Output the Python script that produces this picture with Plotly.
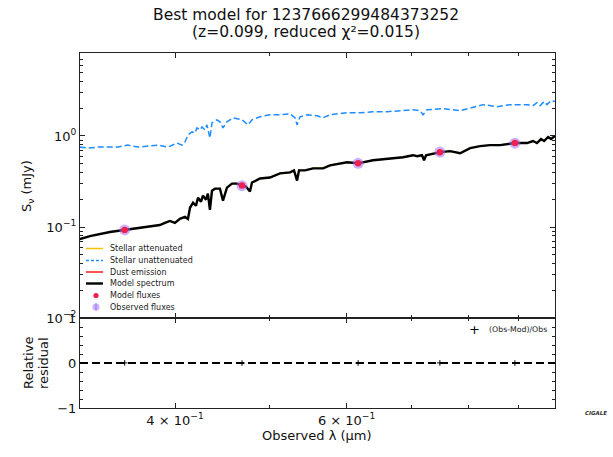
import plotly.graph_objects as go

# ---------------- data ----------------
model_wavelength = [0.3194, 0.3271, 0.3429, 0.3544, 0.3682, 0.3769, 0.3859, 0.3905, 0.3952, 0.3999,
                    0.4046, 0.4095, 0.4124, 0.4144, 0.4174, 0.4203, 0.4223, 0.4253, 0.4273, 0.4303,
                    0.4323, 0.4344, 0.4365, 0.4396, 0.4448, 0.4480, 0.4522, 0.4576, 0.4631, 0.4686,
                    0.4730, 0.4775, 0.4798, 0.4890, 0.5006, 0.5126, 0.5249, 0.5299, 0.5337, 0.5362,
                    0.5439, 0.5543, 0.5675, 0.5770, 0.5908, 0.6007, 0.6165, 0.6238, 0.6387, 0.6540,
                    0.6696, 0.6857, 0.7021, 0.7088, 0.7171, 0.7206, 0.7240, 0.7486, 0.7665, 0.7847,
                    0.8035, 0.8226, 0.8422, 0.8624, 0.8935, 0.9192, 0.9322, 0.9410, 0.9501, 0.9570,
                    0.9661, 0.9728, 0.9820]
model_flux = [0.0736, 0.0794, 0.0880, 0.0926, 0.0975, 0.1000, 0.1052, 0.1108, 0.1166, 0.1108,
              0.1227, 0.1290, 0.1227, 0.1626, 0.1848, 0.1711, 0.2100, 0.1896, 0.2210, 0.1995,
              0.2326, 0.1545, 0.2510, 0.2640, 0.2640, 0.1945, 0.2710, 0.3000, 0.3000, 0.2850,
              0.2780, 0.2450, 0.3080, 0.3410, 0.3500, 0.3880, 0.3980, 0.4190, 0.3240, 0.4190,
              0.4190, 0.4410, 0.4410, 0.4760, 0.5010, 0.5140, 0.5010, 0.5140, 0.5410, 0.5550,
              0.5690, 0.5840, 0.6150, 0.5990, 0.6150, 0.5410, 0.6150, 0.6640, 0.6810, 0.6470,
              0.7360, 0.7740, 0.7940, 0.7940, 0.8360, 0.8360, 0.8800, 0.8360, 0.9260, 0.8800,
              0.9750, 0.9260, 1.0000]

unatt_wavelength = [0.3194, 0.3256, 0.3333, 0.3495, 0.3578, 0.3664, 0.3752, 0.3841, 0.3933, 0.4018,
                    0.4066, 0.4095, 0.4124, 0.4164, 0.4193, 0.4213, 0.4243, 0.4263, 0.4293, 0.4313,
                    0.4344, 0.4365, 0.4416, 0.4448, 0.4480, 0.4522, 0.4587, 0.4686, 0.4753, 0.4798,
                    0.4890, 0.5006, 0.5126, 0.5249, 0.5311, 0.5337, 0.5375, 0.5465, 0.5596, 0.5675,
                    0.5770, 0.6007, 0.6194, 0.6387, 0.6603, 0.6808, 0.7021, 0.7138, 0.7189, 0.7257,
                    0.7540, 0.7847, 0.8168, 0.8284, 0.8562, 0.8829, 0.9192, 0.9322, 0.9410, 0.9478,
                    0.9568, 0.9636, 0.9728, 0.9820]
unatt_flux = [0.755, 0.736, 0.755, 0.755, 0.794, 0.755, 0.774, 0.794, 0.755, 0.836,
              0.794, 0.858, 1.026, 1.108, 1.080, 1.227, 1.166, 1.259, 1.166, 1.325,
              0.950, 1.395, 1.506, 1.431, 1.227, 1.431, 1.585, 1.506, 1.325, 1.506,
              1.626, 1.711, 1.711, 1.756, 1.585, 1.325, 1.626, 1.711, 1.668, 1.585,
              1.711, 1.801, 1.801, 1.848, 1.848, 1.896, 1.945, 1.896, 1.711, 1.945,
              1.995, 1.896, 2.100, 2.211, 2.100, 2.211, 2.211, 2.154, 2.326, 2.154,
              2.387, 2.211, 2.450, 2.387]

filter_wavelength = [0.3551, 0.4686, 0.6166, 0.7480, 0.8932]
model_fluxes = [0.0926, 0.2850, 0.5010, 0.6640, 0.8360]
observed_fluxes = [0.0928, 0.2846, 0.5012, 0.6650, 0.8345]
observed_errors = [0.0030, 0.0080, 0.0120, 0.0160, 0.0250]
residuals = [(o - m) / o for o, m in zip(observed_fluxes, model_fluxes)]

x_ticks = [0.4, 0.6]
x_tick_labels = ["4 × 10<sup>−1</sup>", "6 × 10<sup>−1</sup>"]
x_minor = [0.5, 0.7, 0.8, 0.9]
y_ticks = [0.01, 0.1, 1]
y_tick_labels = ["10<sup>−2</sup>", "10<sup>−1</sup>", "10<sup>0</sup>"]
y_minor = [k * 10.0 ** e for e in (-2, -1, 0) for k in range(2, 10)]
res_ticks = [-1, 0, 1]
res_tick_labels = ["−1", "0", "1"]

legend_labels = ["Stellar attenuated", "Stellar unattenuated", "Dust emission",
                 "Model spectrum", "Model fluxes", "Observed fluxes"]

# ---------------- styles ----------------
FONT = "DejaVu Sans"
AX = "#222222"
GOLD = "#f5c400"
BLUE = "#1f8cff"
RED = "#ff1a1a"
MODELPT = "#ee2050"
OBSPT = "rgba(165,115,250,0.55)"

# page pixel geometry of the plot area
PLOT_L, PLOT_R, PLOT_T, PLOT_B = 80, 555, 53, 408
W, H = 613, 457
L, T = PLOT_L, PLOT_T
R, B = W - PLOT_R, H - PLOT_B
PW, PH = PLOT_R - PLOT_L, PLOT_B - PLOT_T
split = 90 / PH


def px(x):
    return (x - PLOT_L) / PW


def py(y):
    return (PLOT_B - y) / PH


fig = go.Figure()

fig.add_trace(go.Scatter(x=model_wavelength, y=model_flux, mode="lines",
                         line=dict(color=GOLD, width=1.5), xaxis="x", yaxis="y",
                         showlegend=False, name="Stellar attenuated"))
fig.add_trace(go.Scatter(x=unatt_wavelength, y=unatt_flux, mode="lines",
                         line=dict(color=BLUE, width=1.5, dash="6px,3px"), xaxis="x", yaxis="y",
                         showlegend=False, name="Stellar unattenuated"))
fig.add_trace(go.Scatter(x=model_wavelength, y=model_flux, mode="lines",
                         line=dict(color="black", width=2.4), xaxis="x", yaxis="y",
                         showlegend=False, name="Model spectrum"))
fig.add_trace(go.Scatter(x=filter_wavelength, y=observed_fluxes, mode="markers",
                         marker=dict(color=OBSPT, size=11),
                         error_y=dict(type="data", array=observed_errors, color=OBSPT,
                                      thickness=1, width=0),
                         xaxis="x", yaxis="y", showlegend=False, name="Observed fluxes"))
fig.add_trace(go.Scatter(x=filter_wavelength, y=model_fluxes, mode="markers",
                         marker=dict(color=MODELPT, size=6.5),
                         xaxis="x", yaxis="y", showlegend=False, name="Model fluxes"))
fig.add_trace(go.Scatter(x=filter_wavelength, y=residuals, mode="markers",
                         marker=dict(color="black", size=4, symbol="cross-thin",
                                     line=dict(color="black", width=1)),
                         xaxis="x2", yaxis="y2", showlegend=False, name="(Obs-Mod)/Obs"))

# zero line in residual panel
fig.add_shape(type="line", xref="x2 domain", yref="y2", x0=0, x1=1, y0=0, y1=0,
              line=dict(color="black", width=2, dash="8px,4px"))

axis_common = dict(showline=True, linecolor=AX, linewidth=1.2, mirror="allticks",
                   ticks="inside", ticklen=5, tickwidth=1, tickcolor=AX,
                   showgrid=False, zeroline=False,
                   tickfont=dict(family=FONT, size=13, color="#111"))

fig.update_layout(
    width=W, height=H, margin=dict(l=L, r=R, t=T, b=B),
    paper_bgcolor="white", plot_bgcolor="white",
    font=dict(family=FONT, color="#111"),
    xaxis=dict(type="log", range=[-0.4955, -0.0079], domain=[0, 1], anchor="y",
               tickmode="array", tickvals=x_ticks, showticklabels=False,
               minor=dict(tickmode="array", tickvals=x_minor, ticks="inside", ticklen=3,
                          tickcolor=AX, showgrid=False),
               **axis_common),
    yaxis=dict(type="log", range=[-2.0, 0.912], domain=[split, 1], anchor="x",
               tickmode="array", tickvals=y_ticks, ticktext=y_tick_labels,
               minor=dict(tickmode="array", tickvals=y_minor, ticks="inside", ticklen=3,
                          tickcolor=AX, showgrid=False),
               **axis_common),
    xaxis2=dict(type="log", range=[-0.4955, -0.0079], domain=[0, 1], anchor="y2",
                tickmode="array", tickvals=x_ticks, ticktext=x_tick_labels,
                minor=dict(tickmode="array", tickvals=x_minor, ticks="inside", ticklen=3,
                           tickcolor=AX, showgrid=False),
                **axis_common),
    yaxis2=dict(range=[-1, 1], domain=[0, split], anchor="x2",
                tickmode="array", tickvals=res_ticks, ticktext=res_tick_labels,
                minor=dict(dtick=0.2, ticks="inside", ticklen=3, tickcolor=AX, showgrid=False),
                **axis_common),
)

ann = []
# title lines
ann.append(dict(text="Best model for 1237666299484373252", x=px(306), y=py(15.5),
                xref="paper", yref="paper", showarrow=False, xanchor="center", yanchor="middle",
                font=dict(family=FONT, size=15.5, color="#111")))
ann.append(dict(text="(z=0.099, reduced χ²=0.015)", x=px(306), y=py(32),
                xref="paper", yref="paper", showarrow=False, xanchor="center", yanchor="middle",
                font=dict(family=FONT, size=15.5, color="#111")))
# axis titles
ann.append(dict(text="S<sub>ν</sub> (mJy)", x=px(28), y=py(186), textangle=-90,
                xref="paper", yref="paper", showarrow=False, xanchor="center", yanchor="middle",
                font=dict(family=FONT, size=13, color="#111")))
ann.append(dict(text="Relative", x=px(28), y=py(363), textangle=-90,
                xref="paper", yref="paper", showarrow=False, xanchor="center", yanchor="middle",
                font=dict(family=FONT, size=13, color="#111")))
ann.append(dict(text="residual", x=px(43), y=py(363), textangle=-90,
                xref="paper", yref="paper", showarrow=False, xanchor="center", yanchor="middle",
                font=dict(family=FONT, size=13, color="#111")))
ann.append(dict(text="Observed λ (μm)", x=px(317), y=py(436),
                xref="paper", yref="paper", showarrow=False, xanchor="center", yanchor="middle",
                font=dict(family=FONT, size=13, color="#111")))

# legend (drawn compactly like the matplotlib legend)
rows = [248.5, 260.5, 272.0, 283.5, 295.5, 307.0]
for label, yy in zip(legend_labels, rows):
    ann.append(dict(text=label, x=px(108), y=py(yy), xref="paper", yref="paper",
                    showarrow=False, xanchor="left", yanchor="middle",
                    font=dict(family=FONT, size=8, color="#222")))
line_styles = [(GOLD, 1.5, "solid"), (BLUE, 1.5, "3px,2px"), (RED, 1.5, "solid"), ("black", 2.4, "solid")]
for (col, wd, ds), yy in zip(line_styles, rows[:4]):
    fig.add_shape(type="line", xref="paper", yref="paper", x0=px(86), x1=px(103),
                  y0=py(yy), y1=py(yy), line=dict(color=col, width=wd, dash=ds))
r = 2.6
fig.add_shape(type="circle", xref="paper", yref="paper", x0=px(96 - r), x1=px(96 + r),
              y0=py(rows[4] + r), y1=py(rows[4] - r), fillcolor=MODELPT, line=dict(width=0))
r = 3.6
fig.add_shape(type="circle", xref="paper", yref="paper", x0=px(96 - r), x1=px(96 + r),
              y0=py(rows[5] + r), y1=py(rows[5] - r), fillcolor=OBSPT, line=dict(width=0))
fig.add_shape(type="line", xref="paper", yref="paper", x0=px(96), x1=px(96),
              y0=py(rows[5] + 3.6), y1=py(rows[5] - 3.6), line=dict(color="rgba(140,90,240,0.8)", width=1))

# residual legend
ann.append(dict(text="+", x=px(474), y=py(329.5), xref="paper", yref="paper",
                showarrow=False, xanchor="center", yanchor="middle",
                font=dict(family=FONT, size=13, color="black")))
ann.append(dict(text="(Obs-Mod)/Obs", x=px(487), y=py(329.5), xref="paper", yref="paper",
                showarrow=False, xanchor="left", yanchor="middle",
                font=dict(family=FONT, size=7.8, color="#222")))
# logo caption
ann.append(dict(text="<b><i>CIGALE</i></b>", x=px(596), y=py(413), xref="paper", yref="paper",
                showarrow=False, xanchor="center", yanchor="middle",
                font=dict(family=FONT, size=5.5, color="#333")))

fig.update_layout(annotations=ann)
fig.write_html("out.html", config={"displayModeBar": False},
               post_script="document.body.style.margin='0px';")
